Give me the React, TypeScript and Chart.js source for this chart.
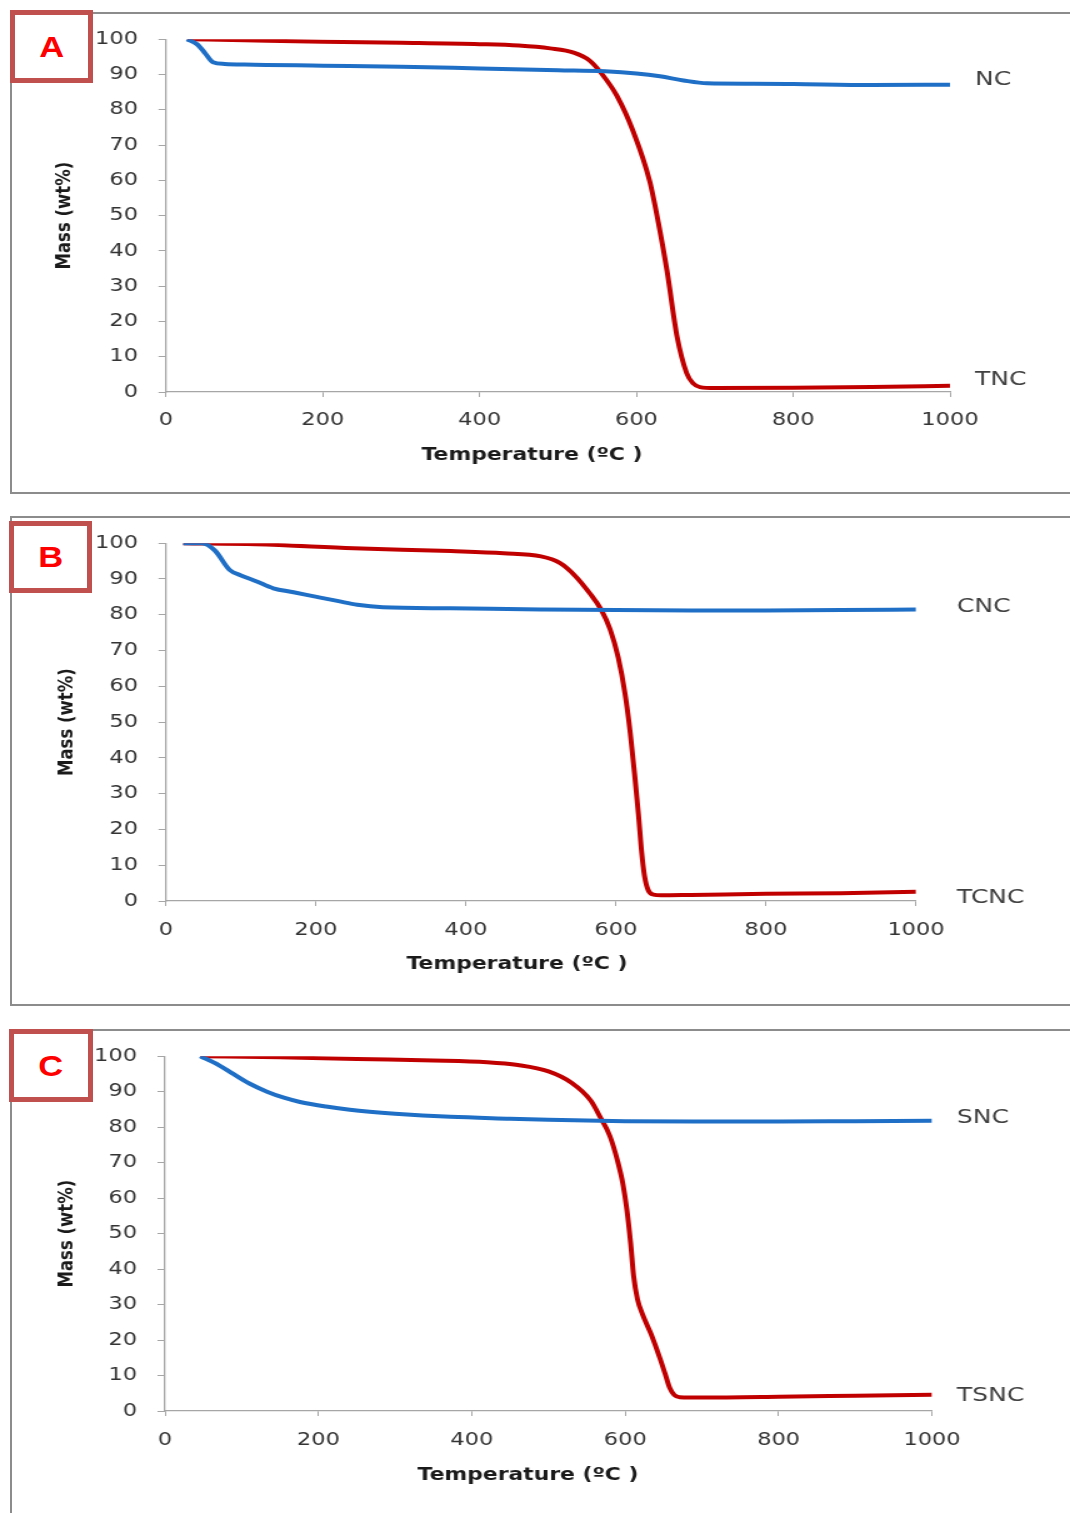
import React, { useEffect, useRef } from 'react';
import { Chart, registerables } from 'chart.js';

Chart.register(...registerables);

// ---------- tick labels ----------
const xTickValues = [0, 200, 400, 600, 800, 1000];
const yTickValues = [0, 10, 20, 30, 40, 50, 60, 70, 80, 90, 100];

// ---------- Panel A ----------
const tempNC = [27, 40, 50, 60, 75, 100, 200, 300, 400, 500, 560, 600, 630, 660, 690, 750, 800, 900, 1000];
const massNC = [100, 98.5, 96, 93.5, 93, 92.8, 92.5, 92.2, 91.7, 91.2, 90.9, 90.3, 89.5, 88.3, 87.5, 87.4, 87.3, 87, 87.1];
const tempTNC = [27, 100, 200, 300, 400, 450, 490, 520, 540, 554, 575, 596, 617, 628, 639, 652, 664, 672, 681, 700, 800, 900, 1000];
const massTNC = [100, 99.7, 99.3, 99, 98.6, 98.2, 97.4, 96.2, 94, 90.7, 84, 73.8, 59.7, 48, 34.4, 15.5, 5.4, 2.5, 1.4, 1.1, 1.2, 1.4, 1.8];

// ---------- Panel B ----------
const tempCNC = [23, 48, 65, 85, 100, 121, 143, 170, 201, 230, 255, 289, 379, 500, 600, 700, 800, 900, 1000];
const massCNC = [100, 100, 98, 92.5, 91, 89.3, 87.4, 86.3, 85, 83.8, 82.8, 82.1, 81.8, 81.5, 81.3, 81.2, 81.2, 81.3, 81.5];
const tempTCNC = [23, 120, 250, 380, 450, 500, 525, 545, 565, 580, 592, 603, 612, 619, 625, 630, 634, 638, 643, 650, 660, 700, 800, 900, 1000];
const massTCNC = [100, 99.7, 98.6, 97.8, 97.2, 96.3, 94.5, 91, 86, 81.5, 76, 68, 58, 47, 35, 24, 14, 7, 3, 1.8, 1.6, 1.7, 2, 2.2, 2.6];

// ---------- Panel C ----------
const tempSNC = [46, 70, 89, 110, 133, 155, 176, 210, 241, 300, 372, 450, 500, 600, 700, 800, 900, 1000];
const massSNC = [100, 97.5, 95, 92.3, 90, 88.3, 87.1, 85.8, 84.9, 83.8, 82.9, 82.4, 82.1, 81.7, 81.6, 81.6, 81.7, 81.8];
const tempTSNC = [46, 150, 250, 350, 420, 460, 500, 530, 555, 567, 580, 590, 597, 602, 607, 611, 616, 623, 634, 645, 652, 658, 664, 671, 700, 800, 900, 1000];
const massTSNC = [100, 99.7, 99.2, 98.8, 98.3, 97.5, 95.7, 92.5, 87.5, 83, 77.5, 70.5, 64, 57, 47.5, 38, 31.5, 27, 21.5, 15, 10.5, 6.5, 4.5, 3.9, 3.8, 4, 4.3, 4.6];

const panelLetters = ['A', 'B', 'C'];
const blueNames = ['NC', 'CNC', 'SNC'];
const redNames = ['TNC', 'TCNC', 'TSNC'];
const xTitleText = 'Temperature (ºC )';
const yTitleText = 'Mass (wt%)';

const BLUE = '#1f6fc6';
const RED = '#c00000';
const AXIS = '#a6a6a6';
const TICK_TXT = '#333333';
const FONT = '"DejaVu Sans", Verdana, sans-serif';

const S = 1.25; // horizontal stretch of the picture
const PAGE_W = 1070;
const LW = PAGE_W / S;

const toXY = (xs: number[], ys: number[]) => xs.map((x, i) => ({ x, y: ys[i] }));

const panels = [
  {
    letter: panelLetters[0], blue: toXY(tempNC, massNC), red: toXY(tempTNC, massTNC),
    blueName: blueNames[0], redName: redNames[0],
    top: 12, height: 482, left: 166, right: 950, plotTop: 37, plotBottom: 392,
    tickPad: 12.2, yTitleX: 52, xTitleDx: -20.8, xTitleDy: 63, labelDx: 20, labelDy: [-5, -6],
    box: { left: 10, top: 10, width: 83, height: 73 }, frame: { top: 12, height: 482 },
  },
  {
    letter: panelLetters[1], blue: toXY(tempCNC, massCNC), red: toXY(tempTCNC, massTCNC),
    blueName: blueNames[1], redName: redNames[1],
    top: 516, height: 490, left: 166, right: 916, plotTop: 543, plotBottom: 901,
    tickPad: 13.2, yTitleX: 53.6, xTitleDx: -19.2, xTitleDy: 63, labelDx: 32.8, labelDy: [-3, 6],
    box: { left: 9, top: 521, width: 83, height: 72 }, frame: { top: 516, height: 490 },
  },
  {
    letter: panelLetters[2], blue: toXY(tempSNC, massSNC), red: toXY(tempTSNC, massTSNC),
    blueName: blueNames[2], redName: redNames[2],
    top: 1029, height: 484, left: 165, right: 932, plotTop: 1054, plotBottom: 1411,
    tickPad: 13.2, yTitleX: 53.6, xTitleDx: -16.4, xTitleDy: 64, labelDx: 20, labelDy: [-3, 1],
    box: { left: 9, top: 1029, width: 84, height: 73 }, frame: { top: 1029, height: 520 },
  },
];

const panelTextPlugin = {
  id: 'panelText',
  afterDraw(chart: any, _args: any, opts: any) {
    const { ctx, chartArea, scales } = chart;
    ctx.save();
    ctx.font = `bold 17.5px ${FONT}`;
    ctx.fillStyle = '#1a1a1a';
    ctx.textAlign = 'center';
    ctx.textBaseline = 'middle';
    ctx.fillText(opts.xTitle, (chartArea.left + chartArea.right) / 2 + opts.xTitleDx, chartArea.bottom + opts.xTitleDy);
    ctx.font = `20px ${FONT}`;
    ctx.fillStyle = '#404040';
    ctx.textAlign = 'left';
    chart.data.datasets.forEach((ds: any, i: number) => {
      const last = ds.data[ds.data.length - 1];
      const x = scales.x.getPixelForValue(last.x) + opts.labelDx;
      const y = scales.y.getPixelForValue(last.y) + opts.labelDy[i];
      ctx.fillText(ds.label, x, y);
    });
    ctx.restore();
  },
};

function Panel({ p }: { p: any }) {
  const ref = useRef<HTMLCanvasElement | null>(null);
  useEffect(() => {
    if (!ref.current) return;
    const yAxisWidth = p.left / S;
    const rightPad = LW - p.right / S;
    const topPad = p.plotTop - p.top;
    const xAxisHeight = p.top + p.height - p.plotBottom;
    const yTitleFont = 16.5;
    const chart = new Chart(ref.current, {
      type: 'line',
      data: {
        datasets: [
          { label: p.blueName, data: p.blue, borderColor: BLUE, backgroundColor: BLUE },
          { label: p.redName, data: p.red, borderColor: RED, backgroundColor: RED },
        ],
      },
      options: {
        animation: false,
        responsive: false,
        devicePixelRatio: 1,
        layout: { padding: { left: 0, right: rightPad, top: topPad, bottom: 0 } },
        elements: {
          point: { radius: 0, hoverRadius: 0 },
          line: { borderWidth: 4, cubicInterpolationMode: 'monotone', fill: false },
        },
        plugins: {
          legend: { display: false },
          tooltip: { enabled: false },
          panelText: {
            xTitle: xTitleText, xTitleDx: p.xTitleDx, xTitleDy: p.xTitleDy,
            labelDx: p.labelDx, labelDy: p.labelDy,
          },
        } as any,
        scales: {
          x: {
            type: 'linear', min: 0, max: 1000,
            afterBuildTicks: (s: any) => { s.ticks = xTickValues.map((v) => ({ value: v })); },
            afterFit: (s: any) => { s.height = xAxisHeight; },
            ticks: {
              callback: (v: any) => String(v), font: { family: FONT, size: 18 }, color: TICK_TXT,
              padding: p.tickPad, maxRotation: 0, autoSkip: false,
            },
            grid: { drawOnChartArea: false, tickLength: 5, color: AXIS, lineWidth: 1 },
            border: { color: AXIS, width: 1.3 },
          },
          y: {
            type: 'linear', min: 0, max: 100,
            afterBuildTicks: (s: any) => { s.ticks = yTickValues.map((v) => ({ value: v })); },
            afterFit: (s: any) => { s.width = yAxisWidth; },
            ticks: {
              callback: (v: any) => String(v), font: { family: FONT, size: 18 }, color: TICK_TXT,
              padding: 16.4, autoSkip: false,
            },
            grid: { drawOnChartArea: false, tickLength: 6, color: AXIS, lineWidth: 1 },
            border: { color: AXIS, width: 1.3 },
            title: {
              display: true, text: yTitleText, color: '#1a1a1a',
              font: { family: FONT, size: yTitleFont, weight: 'bold', lineHeight: 1.2 },
              padding: { top: p.yTitleX - (yTitleFont * 1.2) / 2, bottom: 0 },
            },
          },
        },
      } as any,
      plugins: [panelTextPlugin as any],
    });
    return () => chart.destroy();
  }, [p]);

  return (
    <>
      <div
        style={{
          position: 'absolute', left: 10, top: p.frame.top, width: 1120, height: p.frame.height,
          boxSizing: 'border-box', border: '2px solid #8c8c8c',
        }}
      />
      <canvas
        ref={ref}
        width={LW}
        height={p.height}
        style={{ position: 'absolute', left: 0, top: p.top, width: `${PAGE_W}px`, height: `${p.height}px` }}
      />
      <div
        style={{
          position: 'absolute', left: p.box.left, top: p.box.top, width: p.box.width, height: p.box.height,
          boxSizing: 'border-box', border: '5px solid #c0504d', background: '#ffffff',
          display: 'flex', alignItems: 'center', justifyContent: 'center',
        }}
      >
        <span
          style={{
            display: 'inline-block', color: '#ff0000', fontFamily: '"Liberation Sans", Arial, sans-serif',
            fontWeight: 'bold', fontSize: 30, transform: 'scaleX(1.15)', lineHeight: 1,
          }}
        >
          {p.letter}
        </span>
      </div>
    </>
  );
}

export default function App() {
  return (
    <div
      style={{
        position: 'absolute', left: 0, top: 0, width: PAGE_W, height: 1513, overflow: 'hidden', background: '#ffffff',
      }}
    >
      {panels.map((p) => (
        <Panel key={p.letter} p={p} />
      ))}
    </div>
  );
}
